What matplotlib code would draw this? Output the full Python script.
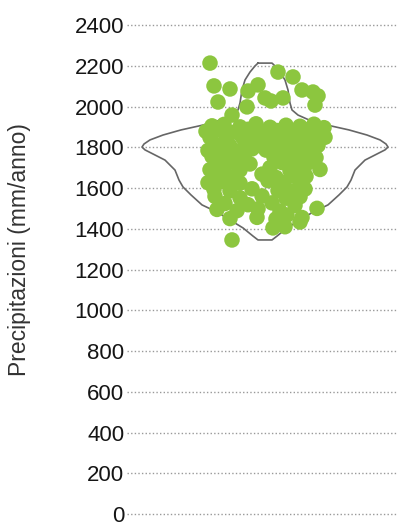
import numpy as np
import matplotlib
matplotlib.use("Agg")
import matplotlib.pyplot as plt

plt.rcParams['font.family'] = ['Liberation Sans', 'DejaVu Sans']

# asse y
yticks = [0, 200, 400, 600, 800, 1000, 1200, 1400, 1600, 1800, 2000, 2200, 2400]
ylabel = "Precipitazioni (mm/anno)"

# profilo del violino (mm, semi-larghezza)
violin_mm = [2213, 2199, 2169, 2130, 2081, 2017, 1983, 1958, 1934, 1909, 1885, 1860,
             1836, 1816, 1801, 1787, 1762, 1737, 1688, 1639, 1605, 1566, 1517, 1482,
             1443, 1404, 1364, 1345]
violin_hw = [7, 10, 15, 20, 23, 25, 27, 33, 44, 62, 84, 102,
             115, 121, 123, 120, 110, 100, 90, 86, 82, 74, 63, 48,
             35, 22, 12, 7]

# punti (jitter, mm/anno)
jitter = [-55, 13, 28, -51, -35, -17, -7, 0, 6, 18, 37, 48, 53, 50, -47, -18, -33,
          -53, -41, -25, -9, 5, 21, 35, 49, 59,
          -59, -47, -33, -17, -3, 12, 27, 41, 55,
          -55, -39, -23, -10, 3, 19, 33, 47, 60,
          -50, -35, -20, -5, 10, 25, 39, 53,
          -57, -43, -27, -13, 1, 17, 31, 46,
          -53, -37, -21, 9, 23, 37, 51,
          -47, -31, -15, 17, 31, 45,
          -55, -41, -25, 5, 25, 39, 55,
          -49, -33, -3, 11, 27, 41,
          -57, -43, -25, 3, 19, 35,
          -51, -35, -13, 13, 27, 40,
          -50, -25, -3, 21, 35,
          -40, -17, 7, 30,
          -48, -28, -7, 15, 52,
          -35, -8, 11, 37,
          35, 22,
          8, 20,
          -33]
precip = [2213, 2169, 2145, 2101, 2086, 2076, 2106, 2042, 2027, 2042, 2081, 2071, 2052, 2007, 2022, 1998, 1958,
          1905, 1912, 1900, 1915, 1898, 1908, 1903, 1913, 1896,
          1878, 1885, 1872, 1888, 1876, 1882, 1870, 1886, 1874,
          1848, 1840, 1852, 1838, 1850, 1843, 1855, 1840, 1849,
          1815, 1806, 1818, 1808, 1813, 1804, 1816, 1809,
          1784, 1790, 1780, 1792, 1786, 1779, 1791, 1783,
          1755, 1748, 1758, 1750, 1745, 1757, 1749,
          1720, 1727, 1718, 1725, 1716, 1729,
          1690, 1697, 1688, 1700, 1686, 1694, 1691,
          1662, 1655, 1668, 1652, 1660, 1657,
          1626, 1633, 1624, 1636, 1628, 1622,
          1593, 1586, 1596, 1588, 1584, 1595,
          1559, 1552, 1561, 1550, 1557,
          1524, 1518, 1527, 1515,
          1495, 1489, 1498, 1486, 1500,
          1450, 1456, 1448, 1455,
          1433, 1467,
          1404, 1410,
          1345]

fig = plt.figure(figsize=(3.98, 5.28), dpi=100)
ax = fig.add_axes([127 / 398, 0, 271 / 398, 1])
ax.set_xlim(-138, 133)
ax.set_ylim(-68.7, 2522.7)

for t in yticks:
    ax.axhline(t, color='#999999', lw=1.0, ls=(0, (1, 1.6)), zorder=1)

hw = np.array(violin_hw)
mm = np.array(violin_mm)
vx = np.concatenate([-hw, hw[::-1], [-hw[0]]])
vy = np.concatenate([mm, mm[::-1], [mm[0]]])
ax.plot(vx, vy, color='#666666', lw=1.2, zorder=2)

ax.scatter(jitter, precip, s=125, color='#8cc63f', edgecolors='none', zorder=3)

ax.set_yticks(yticks)
ax.set_yticklabels([str(t) for t in yticks], fontsize=16, color='#151515')
ax.tick_params(axis='y', length=0, pad=2)
ax.set_xticks([])
for s in ax.spines.values():
    s.set_visible(False)

fig.text(20 / 398, 1 - 250 / 528, ylabel, rotation=90, ha='center', va='center',
         fontsize=16.5, color='#333333')

fig.savefig("out.png", dpi=100)
